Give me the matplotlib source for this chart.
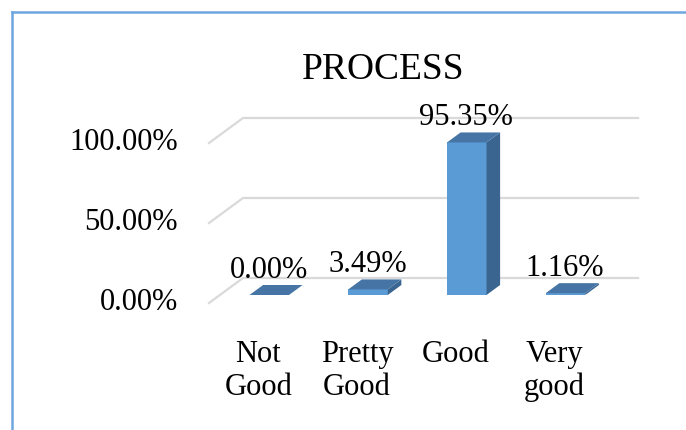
import matplotlib
matplotlib.use("Agg")
import matplotlib.pyplot as plt
from matplotlib.patches import Polygon
from matplotlib.lines import Line2D

plt.rcParams['font.family'] = ['Liberation Serif', 'DejaVu Serif']

# data
categories = ["Not\nGood", "Pretty\nGood", "Good", "Very\ngood"]
values = [0.00, 3.49, 95.35, 1.16]
value_labels = ["0.00%", "3.49%", "95.35%", "1.16%"]
yticks = [0, 50, 100]
ytick_labels = ["0.00%", "50.00%", "100.00%"]
title = "PROCESS"

W, H = 686, 430
fig = plt.figure(figsize=(W / 100, H / 100), dpi=100)

# plot area (front plane) in pixels: x 209..604, y(0)=303, y(100)=143
ax = fig.add_axes([209 / W, (H - 303) / H, 395 / W, 160 / H])
ax.set_xlim(-0.5, 3.5)
ax.set_ylim(0, 100)
ax.axis('off')

# oblique depth vector in data units (34 px right, 25 px up)
DX = 34 / 98.75
DY = 25 / 1.6

grid_col = '#d9d9d9'
for v in yticks:
    ax.plot([-0.5, -0.5 + DX, 3.5 + DX], [v, v + DY, v + DY],
            color=grid_col, lw=1.6, clip_on=False, zorder=1)
    ax.annotate(ytick_labels[yticks.index(v)], (-0.5, v), xytext=(-22.5, 0),
                textcoords='offset points', ha='right', va='center',
                fontsize=22, annotation_clip=False)

front_c = '#5b9bd5'
top_c = '#4675a5'
side_c = '#3a6591'
w = 0.4
d0, d1 = 0.32, 0.72
for i, v in enumerate(values):
    x0 = i - w / 2
    x1 = i + w / 2
    fx0, fx1 = x0 + d0 * DX, x1 + d0 * DX
    bx0, bx1 = x0 + d1 * DX, x1 + d1 * DX
    fy, by = d0 * DY, d1 * DY
    # front face
    ax.add_patch(Polygon([(fx0, fy), (fx1, fy), (fx1, fy + v), (fx0, fy + v)],
                         closed=True, fc=front_c, ec='none', clip_on=False, zorder=3))
    # side face
    ax.add_patch(Polygon([(fx1, fy), (bx1, by), (bx1, by + v), (fx1, fy + v)],
                         closed=True, fc=side_c, ec='none', clip_on=False, zorder=3))
    # top face
    ax.add_patch(Polygon([(fx0, fy + v), (fx1, fy + v), (bx1, by + v), (bx0, by + v)],
                         closed=True, fc=top_c, ec='none', clip_on=False, zorder=4))
    ax.annotate(value_labels[i], (i + 0.3 * DX, v + by), xytext=(0, 5),
                textcoords='offset points', ha='center', va='baseline',
                fontsize=22, annotation_clip=False, zorder=5)
    ax.annotate(categories[i], (i, 0), xytext=(0, -26.5),
                textcoords='offset points', ha='center', va='top',
                fontsize=22, linespacing=1.17, annotation_clip=False)

fig.text(383.5 / W, (H - 79) / H, title, ha='center', va='baseline', fontsize=27)

# chart border (top and left edge visible)
border_c = '#6ea6e0'
fig.add_artist(Line2D([11.5 / W, 11.5 / W], [0, (H - 12) / H], color=border_c, lw=1.8))
fig.add_artist(Line2D([11.5 / W, 1], [(H - 12) / H, (H - 12) / H], color=border_c, lw=1.8))

fig.savefig("out.png", dpi=100)
